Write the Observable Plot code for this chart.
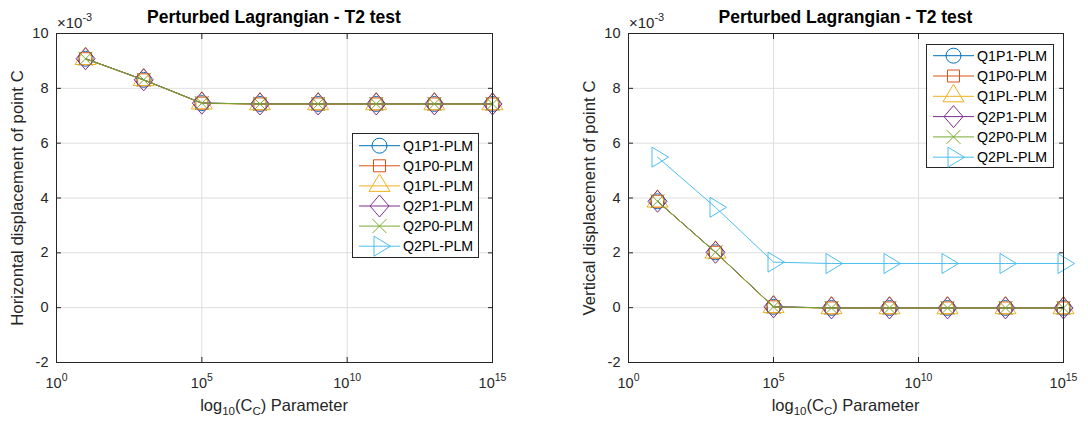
<!DOCTYPE html>
<html>
<head>
<meta charset="utf-8">
<script src="https://cdn.jsdelivr.net/npm/d3@7"></script>
<script src="https://cdn.jsdelivr.net/npm/@observablehq/plot@0.6"></script>
<style>
html,body{margin:0;padding:0;background:#fff;}
#wrap{position:relative;width:1088px;height:425px;font-family:"Liberation Sans",Arial,Helvetica,sans-serif;color:#262626;overflow:hidden;background:#fff}
.panel{position:absolute;top:0;width:544px;height:425px}
.title{position:absolute;font-weight:bold;font-size:17.5px;line-height:1;color:#000;white-space:nowrap;transform:translateX(-50%)}
.xlabel{position:absolute;font-size:16.5px;line-height:1;white-space:nowrap;transform:translateX(-50%)}
.ylabel{position:absolute;font-size:16.8px;line-height:1;white-space:nowrap;transform:translate(-50%,-50%) rotate(-90deg)}
.exp{position:absolute;font-size:15px;line-height:1;white-space:nowrap}
.exp sup{font-size:11px;line-height:0;position:relative;top:-1px}
sub{font-size:70%;line-height:0}
.legend{position:absolute}
</style>
</head>
<body>
<div id="wrap"></div>
<script>
// ---------- data ----------
const ccValues = [1e1, 1e3, 1e5, 1e7, 1e9, 1e11, 1e13, 1e15];
const xTickValues = [1e0, 1e5, 1e10, 1e15];
const yTickValues = [-2, 0, 2, 4, 6, 8, 10];
const seriesNames = ["Q1P1-PLM", "Q1P0-PLM", "Q1PL-PLM", "Q2P1-PLM", "Q2P0-PLM", "Q2PL-PLM"];
const seriesColors = ["#0072BD", "#D95319", "#EDB120", "#7E2F8E", "#77AC30", "#4DBEEE"];

// Horizontal displacement of point C (x 10^-3)
const horizQ1P1 = [9.08, 8.31, 7.46, 7.43, 7.43, 7.43, 7.43, 7.43];
const horizQ1P0 = [9.08, 8.31, 7.46, 7.43, 7.43, 7.43, 7.43, 7.43];
const horizQ1PL = [9.07, 8.30, 7.45, 7.42, 7.42, 7.42, 7.42, 7.42];
const horizQ2P1 = [9.08, 8.31, 7.46, 7.43, 7.43, 7.43, 7.43, 7.43];
const horizQ2P0 = [9.08, 8.31, 7.46, 7.43, 7.43, 7.43, 7.43, 7.43];
const horizQ2PL = [null, null, null, null, null, null, null, null]; // not visible in this panel

// Vertical displacement of point C (x 10^-3)
const vertQ1P1 = [3.88, 2.02, 0.03, -0.01, -0.01, -0.01, -0.01, -0.01];
const vertQ1P0 = [3.88, 2.02, 0.03, -0.01, -0.01, -0.01, -0.01, -0.01];
const vertQ1PL = [3.87, 2.01, 0.02, -0.02, -0.02, -0.02, -0.02, -0.02];
const vertQ2P1 = [3.88, 2.02, 0.03, -0.01, -0.01, -0.01, -0.01, -0.01];
const vertQ2P0 = [3.88, 2.02, 0.03, -0.01, -0.01, -0.01, -0.01, -0.01];
const vertQ2PL = [5.49, 3.66, 1.66, 1.61, 1.61, 1.61, 1.61, 1.61];

// ---------- MATLAB-like marker shapes ----------
const symbols = [
  {draw(c) { c.moveTo(7.5, 0); c.arc(0, 0, 7.5, 0, 2 * Math.PI); }},
  {draw(c) { c.rect(-6, -6, 12, 12); }},
  {draw(c) { c.moveTo(0, -12); c.lineTo(10.5, 5.5); c.lineTo(-10.5, 5.5); c.closePath(); }},
  {draw(c) { c.moveTo(0, -11); c.lineTo(9.5, 0); c.lineTo(0, 11); c.lineTo(-9.5, 0); c.closePath(); }},
  {draw(c) { c.moveTo(-7, -7); c.lineTo(7, 7); c.moveTo(-7, 7); c.lineTo(7, -7); }},
  {draw(c) { c.moveTo(-5.5, -10); c.lineTo(11, 0); c.lineTo(-5.5, 10); c.closePath(); }}
];

const FONT = '"Liberation Sans", Arial, Helvetica, sans-serif';
const wrap = document.getElementById("wrap");

function panel({left, marginLeft, marginRight, seriesValues}) {
  const marks = [
    Plot.gridX(xTickValues, {stroke: "#dfdfdf", strokeOpacity: 1}),
    Plot.gridY(yTickValues, {stroke: "#dfdfdf", strokeOpacity: 1})
  ];
  seriesValues.forEach((arr, i) => {
    const data = ccValues.map((x, j) => ({x, y: arr[j]})).filter(d => d.y != null);
    if (!data.length) return;
    marks.push(Plot.line(data, {x: "x", y: "y", stroke: seriesColors[i], strokeWidth: 1}));
    marks.push(Plot.dot(data, {x: "x", y: "y", symbol: symbols[i], r: 7, stroke: seriesColors[i], fill: "none", strokeWidth: 1}));
  });
  marks.push(
    Plot.axisX(xTickValues, {anchor: "bottom", tickSize: -5, tickPadding: 20, stroke: "#262626", fill: "#262626",
      tickFormat: d => "10^" + Math.round(Math.log10(d)), fontSize: 14.5, label: null}),
    Plot.axisX(xTickValues, {anchor: "top", tickSize: -5, stroke: "#262626", fill: "none", label: null}),
    Plot.axisY(yTickValues, {anchor: "left", tickSize: -5, tickPadding: 13, stroke: "#262626", fill: "#262626",
      tickFormat: d => String(d), fontSize: 14.5, label: null}),
    Plot.axisY(yTickValues, {anchor: "right", tickSize: -5, stroke: "#262626", fill: "none", label: null}),
    Plot.frame({stroke: "#262626", strokeWidth: 1})
  );
  const svg = Plot.plot({
    width: 544, height: 425,
    marginLeft, marginRight, marginTop: 33, marginBottom: 63,
    x: {type: "log", domain: [1e0, 1e15]},
    y: {domain: [-2, 10]},
    style: {fontFamily: FONT, fontSize: "14.5px", color: "#262626", background: "transparent", overflow: "visible"},
    marks
  });
  // superscript exponents in x tick labels
  d3.select(svg).selectAll('g[aria-label="x-axis tick label"] text').each(function () {
    const [b, e] = this.textContent.split("^");
    const t = d3.select(this);
    t.text(null);
    t.append("tspan").text(b);
    t.append("tspan").attr("dy", "-6.5").attr("font-size", "10.5px").text(e);
  });
  const div = document.createElement("div");
  div.className = "panel";
  div.style.left = left + "px";
  div.appendChild(svg);
  wrap.appendChild(div);
}

panel({left: 0, marginLeft: 56, marginRight: 52,
  seriesValues: [horizQ1P1, horizQ1P0, horizQ1PL, horizQ2P1, horizQ2P0, horizQ2PL]});
panel({left: 544, marginLeft: 84, marginRight: 25,
  seriesValues: [vertQ1P1, vertQ1P0, vertQ1PL, vertQ2P1, vertQ2P0, vertQ2PL]});

// ---------- texts ----------
function addHTML(cls, html, css) {
  const d = document.createElement("div");
  d.className = cls;
  d.innerHTML = html;
  Object.assign(d.style, css);
  wrap.appendChild(d);
}
const frames = [{x0: 56, x1: 492}, {x0: 628, x1: 1063}];
const yLabels = ["Horizontal displacement of point C", "Vertical displacement of point C"];
const yLabelX = [18, 590];
frames.forEach((f, i) => {
  const cx = (f.x0 + f.x1) / 2;
  addHTML("title", "Perturbed Lagrangian - T2 test", {left: cx + "px", top: "9px"});
  addHTML("xlabel", "log<sub>10</sub>(C<sub>C</sub>) Parameter", {left: cx + "px", top: "397px"});
  addHTML("ylabel", yLabels[i], {left: yLabelX[i] + "px", top: "197.5px"});
  addHTML("exp", "\u00d710<sup>-3</sup>", {left: (f.x0 + 1) + "px", top: "15px"});
});

// ---------- legends ----------
function legend(x, y, w, h, rowY0, rowStep) {
  const svg = d3.create("svg").attr("class", "legend").attr("width", w + 1).attr("height", h + 1)
    .style("left", x + "px").style("top", y + "px").style("position", "absolute");
  svg.append("rect").attr("x", 0.5).attr("y", 0.5).attr("width", w).attr("height", h)
    .attr("fill", "#fff").attr("stroke", "#262626").attr("stroke-width", 1);
  seriesNames.forEach((name, i) => {
    const yy = rowY0 + i * rowStep;
    const g = svg.append("g");
    g.append("line").attr("x1", 7).attr("x2", 48).attr("y1", yy).attr("y2", yy)
      .attr("stroke", seriesColors[i]).attr("stroke-width", 1);
    const p = d3.path();
    symbols[i].draw(p);
    g.append("path").attr("d", p.toString()).attr("transform", `translate(27.5,${yy})`)
      .attr("fill", "none").attr("stroke", seriesColors[i]).attr("stroke-width", 1);
    g.append("text").attr("x", 51).attr("y", yy).attr("dy", "0.36em")
      .attr("font-family", FONT).attr("font-size", 14.2).attr("fill", "#000").text(name);
  });
  wrap.appendChild(svg.node());
}
legend(352, 133, 126, 124, 12.7, 20.1);
legend(926, 44, 127, 123, 11.7, 20.3);
</script>
</body>
</html>
